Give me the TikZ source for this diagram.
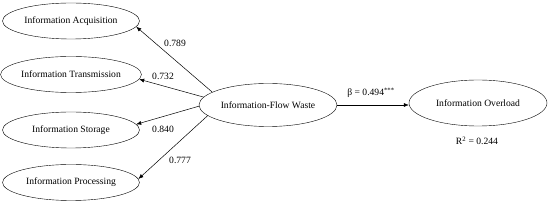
\documentclass[tikz,border=0pt]{standalone}
\usepackage{fontspec}
\setmainfont{Liberation Serif}
\usetikzlibrary{shapes.geometric,arrows.meta}
\begin{document}
\begin{tikzpicture}[x=1pt,y=-1pt,
  lat/.style={draw,ellipse,inner sep=0pt,minimum width=137pt,minimum height=36pt,font=\fontsize{9.6}{11}\selectfont},
  big/.style={draw,ellipse,inner sep=0pt,minimum width=138pt,minimum height=43pt,font=\fontsize{9.6}{11}\selectfont},
  conn/.style={-{Latex[length=5pt,width=4pt]},line width=0.5pt},
  lbl/.style={font=\fontsize{9.6}{11}\selectfont,inner sep=1pt}]
\useasboundingbox (0,0) rectangle (550,205);
\node[lat] (acq) at (71,21) {Information Acquisition};
\node[lat] (tra) at (71,74.5) {Information Transmission};
\node[lat] (sto) at (71,130) {Information Storage};
\node[lat] (pro) at (71,182.5) {Information Processing};
\node[big] (ifw) at (268,105) {Information-Flow Waste};
\node[big,minimum height=46pt] (ovl) at (478,103) {Information Overload};
\draw[conn] (ifw.167) -- (acq.-5);
\draw[conn] (ifw.173) -- (tra.-4);
\draw[conn] (ifw.181) -- (sto.5);
\draw[conn] (ifw.190) -- (pro.3);
\coordinate (ovin) at (ifw.east -| ovl.west);
\draw[conn] (ifw.east) -- (ovin);
\node[lbl] (l1) at (175,43) {0.789};
\node[lbl] (l2) at (163,76) {0.732};
\node[lbl] (l3) at (163,129) {0.840};
\node[lbl] (l4) at (180,160) {0.777};
\node[lbl] (lb) at (371,93) {β = 0.494\textsuperscript{***}};
\node[lbl] (lr) at (477,141) {R\textsuperscript{2} = 0.244};
\end{tikzpicture}
\end{document}
